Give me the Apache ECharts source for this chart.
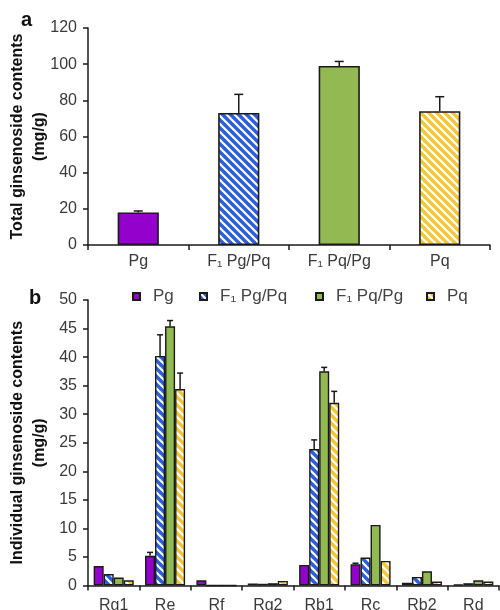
<!DOCTYPE html>
<html><head><meta charset="utf-8">
<script src="https://cdn.jsdelivr.net/npm/echarts@6/dist/echarts.min.js"></script>
<style>html,body{margin:0;padding:0;background:#fff}#c{width:500px;height:610px}</style>
</head><body><div id="c"></div>
<script>
// ---- data ----
const groups = ['Pg', 'F₁ Pg/Pq', 'F₁ Pq/Pg', 'Pq'];
const totalValues = [18, 73, 99, 74];
const totalErrors = [0.8, 10.3, 2.5, 8];

const ginsenosides = ['Rg1', 'Re', 'Rf', 'Rg2', 'Rb1', 'Rc', 'Rb2', 'Rd'];
const pgValues     = [3.4, 5.2, 0.9, 0.35, 3.6, 3.7, 0.5, 0.15];
const pgErrors     = [0, 0.6, 0, 0, 0, 0.2, 0, 0];
const f1PgPqValues = [2.0, 40.2, 0, 0.3, 23.9, 4.9, 1.5, 0.4];
const f1PgPqErrors = [0, 3.7, 0, 0, 1.6, 0, 0, 0];
const f1PqPgValues = [1.4, 45.4, 0, 0.4, 37.5, 10.6, 2.5, 0.9];
const f1PqPgErrors = [0, 1.0, 0, 0, 0.7, 0, 0, 0];
const pqValues     = [0.9, 34.4, 0, 0.8, 32.0, 4.3, 0.7, 0.7];
const pqErrors     = [0, 2.8, 0, 0, 2.0, 0, 0, 0];

// ---- styles ----
const FONT = 'Liberation Sans, Arial, sans-serif';
const EDGE = '#1a1a1a';
const PURPLE = '#9400cc', BLUE = '#2c5fd8', GREEN = '#93b952', YELLOW = '#f5c83a';

function stripes(bg) {
  const s = 8, c = document.createElement('canvas');
  c.width = s; c.height = s;
  const g = c.getContext('2d');
  g.fillStyle = bg; g.fillRect(0, 0, s, s);
  g.strokeStyle = '#ffffff'; g.lineWidth = 2.2;
  for (let k = -1; k <= 1; k++) {
    g.beginPath(); g.moveTo(-1, -1 + k * s); g.lineTo(s + 1, s + 1 + k * s); g.stroke();
  }
  return { image: c, repeat: 'repeat' };
}
const fills = [PURPLE, stripes(BLUE), GREEN, stripes(YELLOW)];

function errSeries(gi, vals, errs, idx, n, catGap, capW) {
  return {
    type: 'custom', xAxisIndex: gi, yAxisIndex: gi, z: 10, silent: true,
    data: vals.map((v, i) => [i, v, v + errs[i]]).filter(d => d[2] > d[1]),
    encode: { x: 0, y: [1, 2] },
    renderItem(params, api) {
      const band = api.size([1, 0])[0];
      const barW = band * (1 - catGap) / n;
      const off = (idx - (n - 1) / 2) * barW;
      const p0 = api.coord([api.value(0), api.value(1)]);
      const p1 = api.coord([api.value(0), api.value(2)]);
      const x = p0[0] + off;
      const st = { stroke: EDGE, lineWidth: 1.5 };
      return { type: 'group', children: [
        { type: 'line', shape: { x1: x, y1: p0[1], x2: x, y2: p1[1] }, style: st },
        { type: 'line', shape: { x1: x - capW / 2, y1: p1[1], x2: x + capW / 2, y2: p1[1] }, style: st }
      ] };
    }
  };
}

const axisLine = { lineStyle: { color: EDGE, width: 1.5 } };
const axisTick = { show: true, length: 5, lineStyle: { color: EDGE, width: 1.5 } };
const tickLabel = { color: '#3a3a3a', fontSize: 16, fontFamily: FONT };
const nameStyle = { fontWeight: 'bold', fontSize: 16, lineHeight: 22, color: '#111', fontFamily: FONT };

const seriesVals = [pgValues, f1PgPqValues, f1PqPgValues, pqValues];
const seriesErrs = [pgErrors, f1PgPqErrors, f1PqPgErrors, pqErrors];
const BOTTOM_GAP = 0.22;

const series = [
  {
    type: 'bar', name: 'Total', xAxisIndex: 0, yAxisIndex: 0, barWidth: '41%',
    data: totalValues.map((v, i) => ({ value: v, itemStyle: { color: fills[i] } })),
    itemStyle: { borderColor: EDGE, borderWidth: 1.6 }
  },
  errSeries(0, totalValues, totalErrors, 0, 1, 0.59, 9)
];
groups.forEach((name, i) => {
  series.push({
    type: 'bar', name: name, xAxisIndex: 1, yAxisIndex: 1,
    barGap: '0%', barCategoryGap: (BOTTOM_GAP * 100) + '%',
    data: seriesVals[i],
    itemStyle: { color: fills[i], borderColor: EDGE, borderWidth: 1.4 }
  });
});
groups.forEach((name, i) => {
  series.push(errSeries(1, seriesVals[i], seriesErrs[i], i, 4, BOTTOM_GAP, 6));
});

const legendLefts = [132, 199, 315, 426];
const legends = groups.map((name, i) => ({
  data: [name], left: legendLefts[i], top: 288, padding: 0,
  itemWidth: 7, itemHeight: 7, icon: 'rect',
  textStyle: { fontSize: 17, color: '#444', fontFamily: FONT, padding: [0, 0, 0, 8] }
}));

const chart = echarts.init(document.getElementById('c'), null, { renderer: 'canvas' });
chart.setOption({
  animation: false,
  backgroundColor: '#fff',
  textStyle: { fontFamily: FONT },
  graphic: [
    { type: 'text', left: 21, top: 10, style: { text: 'a', font: 'bold 20px ' + FONT, fill: '#111' } },
    { type: 'text', left: 29, top: 288, style: { text: 'b', font: 'bold 20px ' + FONT, fill: '#111' } }
  ],
  legend: legends,
  grid: [
    { left: 88, top: 28, width: 402, height: 217, outerBoundsMode: 'none', containLabel: false },
    { left: 88, top: 300, width: 411, height: 285.5, outerBoundsMode: 'none', containLabel: false }
  ],
  xAxis: [
    { type: 'category', gridIndex: 0, data: groups, axisLine, axisTick,
      axisLabel: Object.assign({ margin: 9 }, tickLabel) },
    { type: 'category', gridIndex: 1, data: ginsenosides, axisLine, axisTick,
      axisLabel: Object.assign({ margin: 12 }, tickLabel) }
  ],
  yAxis: [
    { type: 'value', gridIndex: 0, min: 0, max: 120, interval: 20,
      axisLine: Object.assign({ show: true }, axisLine), axisTick, splitLine: { show: false },
      axisLabel: Object.assign({ margin: 11 }, tickLabel),
      name: 'Total ginsenoside contents\n(mg/g)', nameLocation: 'middle', nameGap: 37,
      nameMoveOverlap: false, nameTextStyle: nameStyle },
    { type: 'value', gridIndex: 1, min: 0, max: 50, interval: 5,
      axisLine: Object.assign({ show: true }, axisLine), axisTick, splitLine: { show: false },
      axisLabel: Object.assign({ margin: 11 }, tickLabel),
      name: 'Individual ginsenoside contents\n(mg/g)', nameLocation: 'middle', nameGap: 37,
      nameMoveOverlap: false, nameTextStyle: nameStyle }
  ],
  series
});
</script></body></html>
